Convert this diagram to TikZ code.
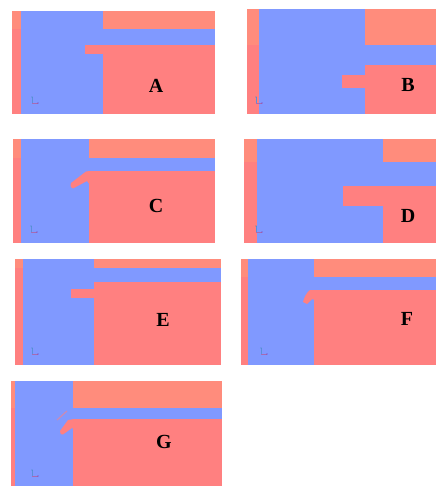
\documentclass[tikz,border=0pt]{standalone}
\usepackage{fontspec}
\setmainfont{Liberation Serif}
\definecolor{flowblue}{HTML}{8099FF}
\definecolor{flowred}{HTML}{FF8080}
\definecolor{floworange}{HTML}{FF8C7C}
\tikzset{panellabel/.style={font=\fontsize{20}{20}\selectfont\bfseries,black}}
\begin{document}
\begin{tikzpicture}[x=1pt,y=-1pt]
\useasboundingbox (0,0) rectangle (436,486);
\foreach \n/\xa/\xb/\xc/\xd/\ya/\yb/\yc/\yd/\lx/\ly/\ox/\oy in {
  A/12/21/103/215/11/29/45/114/156/86/32/97,
  B/247/259/365/436/9/45/65/114/408/85/256/97,
  C/13/21/89/215/139/158/171/243/156/206/31/226,
  D/244/257/383/436/139/162/186/243/408/216/256/226,
  E/15/23/94/221/259/268/282/365/163/320/32/348,
  F/241/248/314/436/259/277/290/365/407/319/261/348,
  G/11/15/73/222/381/408/419/486/164/442/32/470}{
  \fill[flowred] (\xa,\ya) rectangle (\xd,\yd);
  \fill[floworange] (\xa,\ya) rectangle (\xb,\yb);
  \fill[flowblue] (\xb,\ya) rectangle (\xc,\yd);
  \fill[floworange] (\xc,\ya) rectangle (\xd,\yb);
  \fill[flowblue] (\xc,\yb) rectangle (\xd,\yc);
  \node[panellabel] (lab\n) at (\lx,\ly) {\n};
  \draw[teal!30!flowblue,line width=0.2pt] (\ox,\oy+6) -- (\ox,\oy);
  \draw[red!30!flowblue,line width=0.2pt] (\ox,\oy+6) -- (\ox+6,\oy+6);
  \fill[teal!50!flowblue] (\ox,\oy) circle (0.6);
  \fill[violet!70!flowblue] (\ox+6,\oy+6) circle (0.7);}
% tabs on the lower block
\fill[flowred] (85,45) rectangle (104,54);
\fill[flowred] (342,75) rectangle (366,88);
\fill[flowred] (343,186) rectangle (384,206);
\fill[flowred] (71,289) rectangle (95,298);
\fill[flowred] (90,171) -- (86,171.5) -- (71,183) .. controls (70,186) and (71,189) .. (73,188.5) -- (87,181) -- (90,185) -- cycle;
\fill[flowred] (315,290) -- (310,290) .. controls (306,293) and (304,298) .. (303,302) -- (307,304) -- (312,299) -- (315,300) -- cycle;
\fill[flowred] (74,419) -- (68,420) -- (60,431) .. controls (60,434) and (61,435) .. (63,434.5) -- (72,428) -- (74,429) -- cycle;
\draw[flowred!60!flowblue,line width=1.2pt] (67,411) -- (57,420);
\end{tikzpicture}
\end{document}
